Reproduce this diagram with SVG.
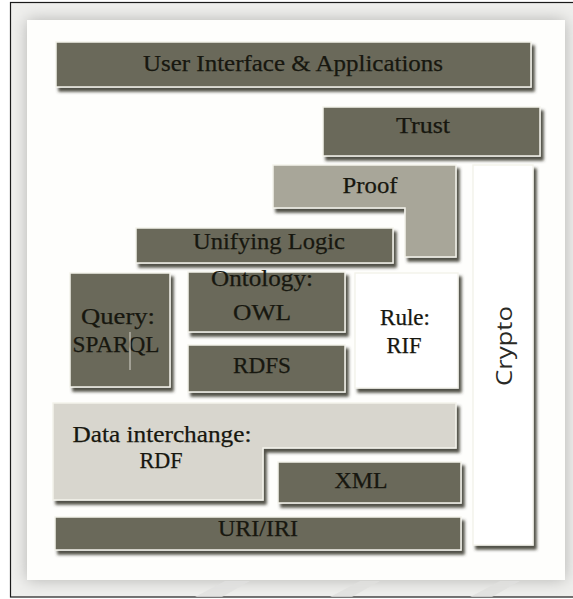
<svg xmlns="http://www.w3.org/2000/svg" width="573" height="599" viewBox="0 0 573 599">
  <style>
    .dark { fill: #6a695a; stroke: #f4f3ec; stroke-width: 1.5; filter: url(#shadow); }
    .mid { fill: #a8a699; stroke: #f4f3ec; stroke-width: 1.5; filter: url(#shadow); }
    .light { fill: #d8d6ce; stroke: #f4f3ec; stroke-width: 1.5; filter: url(#shadow); }
    .white { fill: #ffffff; stroke: #f4f3ec; stroke-width: 1.5; filter: url(#shadow); }
    .lbl { font-family: "Liberation Serif", "DejaVu Serif", serif; font-size: 22.5px; fill: #17170f; stroke: #17170f; stroke-width: 0.25; text-anchor: middle; }
    .sans { font-family: "Open Sans", "Liberation Sans", sans-serif; font-size: 22px; fill: #2a2a26; text-anchor: middle; }
  </style>
  <defs>
    <filter id="shadow" x="-10%" y="-10%" width="130%" height="140%">
      <feGaussianBlur in="SourceAlpha" stdDeviation="1.8" result="b"/>
      <feOffset in="b" dx="3" dy="4" result="o"/>
      <feFlood flood-color="#3e3d33" flood-opacity="0.9"/>
      <feComposite in2="o" operator="in" result="s"/>
      <feMerge>
        <feMergeNode in="s"/>
        <feMergeNode in="SourceGraphic"/>
      </feMerge>
    </filter>
    <filter id="halo" x="-10%" y="-10%" width="120%" height="120%">
      <feGaussianBlur stdDeviation="8"/>
    </filter>
  </defs>

  <!-- frame and page -->
  <rect x="10.5" y="2.5" width="570" height="594.5" fill="#efefed" stroke="#1a1a1a" stroke-width="1.2"/>
  <rect x="27" y="20" width="538" height="560" fill="#b3b3b1" filter="url(#halo)"/>
  <g fill="#e0e0de" opacity="0.8">
    <polygon points="195,597 225,581 250,581 222,597"/>
    <polygon points="330,597 360,581 380,581 352,597"/>
    <polygon points="470,597 500,581 520,581 492,597"/>
  </g>
  <rect x="27" y="20" width="538" height="560" fill="#fefefc"/>

  <g id="ui">
    <rect class="dark" x="56" y="42" width="475" height="45"/>
    <text class="lbl" x="293" y="71" textLength="300" lengthAdjust="spacingAndGlyphs">User Interface &amp; Applications</text>
  </g>
  <g id="trust">
    <rect class="dark" x="323" y="107" width="217" height="49"/>
    <text class="lbl" x="423" y="133" textLength="54" lengthAdjust="spacingAndGlyphs">Trust</text>
  </g>
  <g id="crypto">
    <rect class="white" x="473" y="165" width="60" height="380"/>
    <text class="sans" transform="translate(512,346) rotate(-90)" textLength="80" lengthAdjust="spacingAndGlyphs">Crypto</text>
  </g>
  <g id="proof">
    <polygon class="mid" points="273,165 456,165 456,257 405,257 405,208 273,208"/>
    <text class="lbl" x="370" y="193" textLength="55" lengthAdjust="spacingAndGlyphs">Proof</text>
  </g>
  <g id="unifying-logic">
    <rect class="dark" x="136" y="228" width="257" height="35"/>
    <text class="lbl" x="269" y="249" textLength="152" lengthAdjust="spacingAndGlyphs">Unifying Logic</text>
  </g>
  <g id="query">
    <rect class="dark" x="70" y="273" width="100" height="114"/>
    <text class="lbl" x="118" y="324" textLength="74" lengthAdjust="spacingAndGlyphs">Query:</text>
    <text class="lbl" x="116" y="352" textLength="87" lengthAdjust="spacingAndGlyphs">SPARQL</text>
    <line x1="130" y1="332" x2="130" y2="370" stroke="#d9d8cf" stroke-width="1"/>
  </g>
  <g id="ontology">
    <rect class="dark" x="188" y="272" width="157" height="60"/>
    <text class="lbl" x="262" y="286" textLength="102" lengthAdjust="spacingAndGlyphs">Ontology:</text>
    <text class="lbl" x="262" y="320" textLength="58" lengthAdjust="spacingAndGlyphs">OWL</text>
  </g>
  <g id="rdfs">
    <rect class="dark" x="188" y="345" width="157" height="47"/>
    <text class="lbl" x="262" y="373" textLength="58" lengthAdjust="spacingAndGlyphs">RDFS</text>
  </g>
  <g id="rule">
    <rect class="white" x="355" y="273" width="103" height="115"/>
    <text class="lbl" x="405" y="325" textLength="50" lengthAdjust="spacingAndGlyphs">Rule:</text>
    <text class="lbl" x="404" y="353" textLength="35" lengthAdjust="spacingAndGlyphs">RIF</text>
  </g>
  <g id="rdf">
    <polygon class="light" points="53,403 456,403 456,448 263,448 263,500 53,500"/>
    <text class="lbl" x="162" y="442" textLength="179" lengthAdjust="spacingAndGlyphs">Data interchange:</text>
    <text class="lbl" x="161" y="468" textLength="43" lengthAdjust="spacingAndGlyphs">RDF</text>
  </g>
  <g id="xml">
    <rect class="dark" x="278" y="462" width="183" height="41"/>
    <text class="lbl" x="361" y="488" textLength="53" lengthAdjust="spacingAndGlyphs">XML</text>
  </g>
  <g id="uri">
    <rect class="dark" x="55" y="517" width="406" height="33"/>
    <text class="lbl" x="258" y="536" textLength="80" lengthAdjust="spacingAndGlyphs">URI/IRI</text>
  </g>

  <g id="connectors"/>
</svg>
